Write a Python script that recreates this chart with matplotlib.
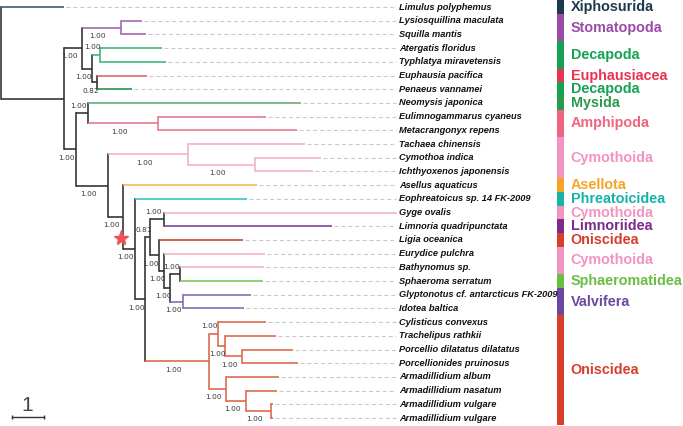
import matplotlib
matplotlib.use("Agg")
import matplotlib.pyplot as plt

# ---------------- data ----------------
# tree as parent table: node, parent, branch length (scale units), support
node_names = ["root", "Limulus polyphemus", "I", "A", "S", "Lysiosquillina maculata", "Squilla mantis",
              "D", "D1", "Atergatis floridus", "Typhlatya miravetensis", "D2", "Euphausia pacifica",
              "Penaeus vannamei", "B", "M", "Neomysis japonica", "Am", "Eulimnogammarus cyaneus",
              "Metacrangonyx repens", "Iso", "Cy", "Tachaea chinensis", "Cy2", "Cymothoa indica",
              "Ichthyoxenos japonensis", "N1", "Asellus aquaticus", "N2", "Eophreatoicus sp. 14 FK-2009",
              "N3", "N4", "N5", "Gyge ovalis", "Limnoria quadripunctata", "N6", "Ligia oceanica", "N7",
              "Eurydice pulchra", "N8", "N9", "Bathynomus sp.", "Sphaeroma serratum", "N10",
              "Glyptonotus cf. antarcticus FK-2009", "Idotea baltica", "On", "On1", "Cylisticus convexus",
              "On2", "Trachelipus rathkii", "On3", "Porcellio dilatatus dilatatus", "Porcellionides pruinosus",
              "On4", "Armadillidium album", "On5", "Armadillidium nasatum", "On6", "Armadillidium vulgare ",
              "Armadillidium vulgare"]
node_parent = [None, "root", "root", "I", "A", "S", "S",
               "A", "D", "D1", "D1", "D", "D2",
               "D2", "I", "B", "M", "M", "Am",
               "Am", "B", "Iso", "Cy", "Cy", "Cy2",
               "Cy2", "Iso", "N1", "N1", "N2",
               "N2", "N3", "N4", "N5", "N5", "N4", "N6", "N6",
               "N7", "N7", "N8", "N9", "N9", "N8",
               "N10", "N10", "N3", "On", "On1",
               "On1", "On2", "On2", "On3", "On3",
               "On", "On4", "On4", "On5", "On5", "On6",
               "On6"]
branch_len = [0.0, 1.97, 1.97, 0.59, 1.19, 0.66, 0.81,
              0.31, 0.25, 1.94, 2.06, 0.16, 1.56,
              1.09, 0.38, 0.38, 6.66, 2.19, 3.38,
              4.34, 1.00, 2.50, 3.66, 2.09, 2.06,
              1.81, 0.47, 4.19, 0.38, 3.50,
              0.31, 0.16, 0.44, 7.28, 5.25, 0.28, 2.62, 0.16,
              3.16, 0.19, 0.31, 2.62, 2.59, 0.41,
              2.12, 1.91, 2.00, 0.28, 1.50,
              0.22, 1.59, 0.53, 1.59, 1.75,
              0.53, 1.66, 0.62, 0.97, 0.78, 0.06,
              0.06]
support = [None, None, None, 1.00, 1.00, None, None,
           1.00, 1.00, None, None, 0.82, None,
           None, 1.00, 1.00, None, 1.00, None,
           None, 1.00, 1.00, None, 1.00, None,
           None, 1.00, None, 1.00, None,
           1.00, 0.81, 1.00, None, None, 1.00, None, 1.00,
           None, 1.00, 1.00, None, None, 1.00,
           None, None, 1.00, 1.00, None,
           1.00, None, 1.00, None, None,
           1.00, None, 1.00, None, 1.00, None,
           None]

# clade annotation (tip order, top to bottom)
tip_groups = ["Xiphosurida", "Stomatopoda", "Stomatopoda", "Decapoda", "Decapoda", "Euphausiacea",
              "Decapoda2", "Mysida", "Amphipoda", "Amphipoda", "Cymothoida", "Cymothoida", "Cymothoida",
              "Asellota", "Phreatoicidea", "Cymothoida2", "Limnoriidea", "Oniscidea", "Cymothoida3",
              "Cymothoida3", "Sphaeromatidea", "Valvifera", "Valvifera", "Oniscidea2", "Oniscidea2",
              "Oniscidea2", "Oniscidea2", "Oniscidea2", "Oniscidea2", "Oniscidea2", "Oniscidea2"]
group_labels = {"Xiphosurida": "Xiphosurida", "Stomatopoda": "Stomatopoda", "Decapoda": "Decapoda",
                "Euphausiacea": "Euphausiacea", "Decapoda2": "Decapoda", "Mysida": "Mysida",
                "Amphipoda": "Amphipoda", "Cymothoida": "Cymothoida", "Asellota": "Asellota",
                "Phreatoicidea": "Phreatoicidea", "Cymothoida2": "Cymothoida", "Limnoriidea": "Limnoriidea",
                "Oniscidea": "Oniscidea", "Cymothoida3": "Cymothoida", "Sphaeromatidea": "Sphaeromatidea",
                "Valvifera": "Valvifera", "Oniscidea2": "Oniscidea"}

# ---------------- styles ----------------
bar_colors = {"Xiphosurida": "#1d3a4c", "Stomatopoda": "#9a4ca6", "Decapoda": "#16a254",
              "Euphausiacea": "#ea3350", "Decapoda2": "#16a254", "Mysida": "#2a9a4c",
              "Amphipoda": "#ef6680", "Cymothoida": "#f393c0", "Asellota": "#f6a428",
              "Phreatoicidea": "#17b3a9", "Cymothoida2": "#f393c0", "Limnoriidea": "#7b2a8d",
              "Oniscidea": "#d83f2b", "Cymothoida3": "#f393c0", "Sphaeromatidea": "#6bbd45",
              "Valvifera": "#6e48a0", "Oniscidea2": "#d83f2b"}
branch_colors = {"Xiphosurida": "#3a5566", "Stomatopoda": "#a062b0", "Decapoda": "#3bb676",
                 "Euphausiacea": "#e25a72", "Decapoda2": "#1d8c4c", "Mysida": "#62ad78",
                 "Amphipoda": "#e2768a", "Cymothoida": "#f2b0cb", "Asellota": "#f2b848",
                 "Phreatoicidea": "#2cc4c2", "Cymothoida2": "#f2b0cb", "Limnoriidea": "#7d3c92",
                 "Oniscidea": "#c44430", "Cymothoida3": "#f2b0cb", "Sphaeromatidea": "#76c656",
                 "Valvifera": "#8466b2", "Oniscidea2": "#dc6448"}
mixed_color = "#2e2e2e"

PX = 32.0          # pixels per branch-length unit
TIP_PX = 13.7      # pixels between tips
W, H = 683, 426

fig = plt.figure(figsize=(W / 100, H / 100), dpi=100)
ax = fig.add_axes([0, 0, 1, 1])
ax.set_xlim(-0.5 / PX, (W - 0.5) / PX)
ax.set_ylim((H - 7) / TIP_PX, -7 / TIP_PX)
ax.axis("off")

# ---------------- layout ----------------
children = {n: [] for n in node_names}
for n, p in zip(node_names, node_parent):
    if p is not None:
        children[p].append(n)
blen = dict(zip(node_names, branch_len))
sup = dict(zip(node_names, support))
parent_of = dict(zip(node_names, node_parent))

xpos, ypos, tips = {}, {}, []

def layout(n, x0):
    xpos[n] = x0 + blen[n]
    if not children[n]:
        ypos[n] = len(tips)
        tips.append(n)
    else:
        for c in children[n]:
            layout(c, xpos[n])
        ypos[n] = (ypos[children[n][0]] + ypos[children[n][-1]]) / 2

layout("root", 0.0)
tip_group = dict(zip(tips, tip_groups))

grp = {}
def groups_of(n):
    if not children[n]:
        grp[n] = {tip_group[n]}
    else:
        s = set()
        for c in children[n]:
            s |= groups_of(c)
        grp[n] = s
    return grp[n]
groups_of("root")

def color_of(n):
    g = grp[n]
    return branch_colors[next(iter(g))] if len(g) == 1 else mixed_color

LW = 1.15
xmax_tip = max(xpos[t] for t in tips)
label_x = xmax_tip + 2.0 / PX

for n in node_names:
    c = color_of(n)
    p = parent_of[n]
    if p is not None:
        ax.plot([xpos[p], xpos[n]], [ypos[n], ypos[n]], color=c, lw=LW, solid_capstyle="butt", zorder=3)
    if children[n]:
        ys = [ypos[ch] for ch in children[n]]
        ax.plot([xpos[n], xpos[n]], [min(ys), max(ys)], color=c, lw=LW, solid_capstyle="projecting", zorder=3)
    if not children[n]:
        if xpos[n] < xmax_tip - 0.05:
            ax.plot([xpos[n] + 2 / PX, xmax_tip - 1 / PX], [ypos[n], ypos[n]], color="#c9c9c9",
                    lw=0.8, linestyle=(0, (3.6, 2.6)), zorder=1)
        ax.text(label_x, ypos[n], n.strip(), fontsize=6.7, fontweight="bold", fontstyle="italic",
                family="Liberation Sans", va="center", ha="left", color="#111111")
    # support labels
    if sup[n] is not None:
        sibs = children[p]
        upper = (sibs.index(n) == 0)
        above = upper and blen[n] < 0.5
        dy = 5.5 if above else -6.0
        ax.annotate(f"{sup[n]:.2f}", xy=((xpos[p] + xpos[n]) / 2, ypos[n]), xytext=(-2.6, dy),
                    textcoords="offset points", fontsize=5.3, family="DejaVu Sans",
                    ha="center", va="center", color="#3a3a3a", zorder=4)

# red star marking the isopod crown node
ax.plot(xpos["N1"] - 0.06, ypos["N2"] - 0.8, marker="*", markersize=11, color="#f0505a",
        markeredgecolor="#f0505a", zorder=5)

# clade bar and labels
bar_x0, bar_x1, txt_x = 556 / PX, 563 / PX, 570 / PX
i = 0
while i < len(tips):
    g = tip_groups[i]
    j = i
    while j + 1 < len(tips) and tip_groups[j + 1] == g:
        j += 1
    ax.bar((bar_x0 + bar_x1) / 2, j - i + 1, width=bar_x1 - bar_x0, bottom=i - 0.5,
           color=bar_colors[g], linewidth=0, zorder=2)
    ax.text(txt_x, (i + j) / 2, group_labels[g], fontsize=10.4, fontweight="bold",
            family="Liberation Sans", color=bar_colors[g], va="center", ha="left")
    i = j + 1

# scale bar
sb_y = (417 - 7) / TIP_PX
ax.plot([11 / PX, 11 / PX + 1.0], [sb_y, sb_y], color="#333333", lw=1.0)
ax.plot([11 / PX, 11 / PX + 1.0], [sb_y, sb_y], color="#333333", lw=0, marker="|", markersize=3)
ax.text(27 / PX, (405 - 7) / TIP_PX, "1", fontsize=15, family="Liberation Sans", color="#444444",
        ha="center", va="center")

fig.savefig("out.png", dpi=100)
